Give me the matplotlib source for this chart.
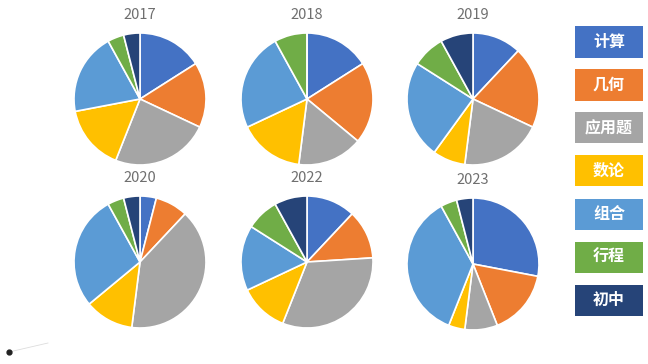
import matplotlib.pyplot as plt
from matplotlib.patches import Rectangle
from matplotlib.lines import Line2D

plt.rcParams['font.family'] = ['Noto Sans CJK SC', 'DejaVu Sans']

# 题型分布 (按题目数量)
categories = ["计算", "几何", "应用题", "数论", "组合", "行程", "初中"]
years = ["2017", "2018", "2019", "2020", "2022", "2023"]
counts_2017 = [4, 4, 6, 4, 5, 1, 1]
counts_2018 = [4, 5, 4, 4, 6, 2, 0]
counts_2019 = [3, 5, 5, 2, 6, 2, 2]
counts_2020 = [1, 2, 10, 3, 7, 1, 1]
counts_2022 = [3, 3, 8, 3, 4, 2, 2]
counts_2023 = [7, 4, 2, 1, 9, 1, 1]
all_counts = [counts_2017, counts_2018, counts_2019,
              counts_2020, counts_2022, counts_2023]

colors = ["#4472C4", "#ED7D31", "#A5A5A5", "#FFC000",
          "#5B9BD5", "#70AD47", "#264478"]

W, H = 648, 364
fig = plt.figure(figsize=(W / 100, H / 100), dpi=100)

# pie centres in pixels (from top-left)
centres = [(140, 99), (307, 99), (473, 99),
           (140, 262), (307, 262), (473, 264)]
r = 66

for year, counts, (cx, cy) in zip(years, all_counts, centres):
    ax = fig.add_axes([(cx - r) / W, 1 - (cy + r) / H, 2 * r / W, 2 * r / H])
    ax.pie(counts, colors=colors, startangle=90, counterclock=False,
           wedgeprops=dict(edgecolor="white", linewidth=1.2))
    ax.set_xlim(-1, 1)
    ax.set_ylim(-1, 1)
    ax.axis("off")
    fig.text(cx / W, 1 - (cy - 84) / H, year, ha="center", va="center",
             fontsize=10.5, color="#6f6f6f", fontweight="light")

# 右侧图例色块
box_x, box_w, box_h = 575, 68, 31
box_y0, box_step = 42, 43
for i, (cat, col) in enumerate(zip(categories, colors)):
    yc = box_y0 + i * box_step
    fig.patches.append(Rectangle(((box_x) / W, 1 - (yc + box_h / 2) / H),
                                 box_w / W, box_h / H, transform=fig.transFigure,
                                 facecolor=col, edgecolor="none"))
    fig.text((box_x + box_w / 2) / W, 1 - yc / H, cat, ha="center", va="center",
             fontsize=11.5, color="white", fontweight="bold")

# 左下角的小点
fig.lines.append(Line2D([9 / W, 48 / W], [1 - 352 / H, 1 - 343 / H],
                        transform=fig.transFigure, color="#dddddd", linewidth=0.6))
fig.lines.append(Line2D([9 / W], [1 - 352 / H], transform=fig.transFigure,
                        marker="o", markersize=3.5, color="#222222"))

fig.savefig("out.png", dpi=100)
